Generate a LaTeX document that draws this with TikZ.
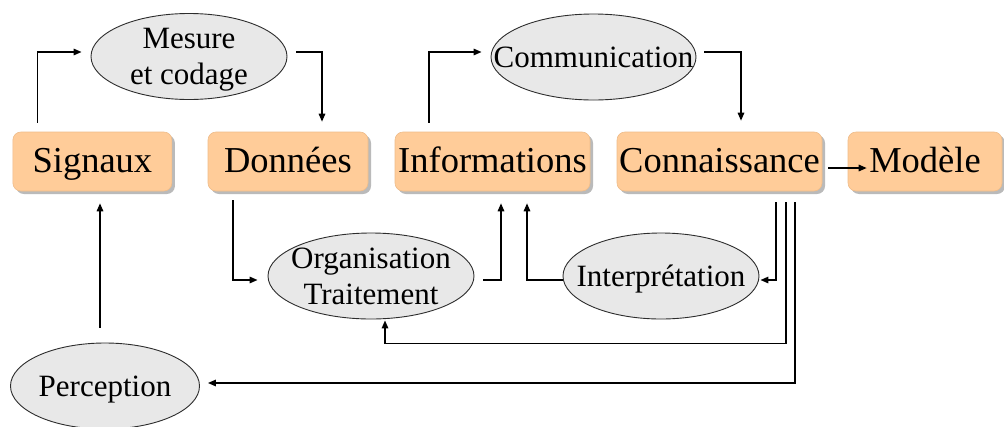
\documentclass[tikz,border=0pt]{standalone}
\usepackage{fontspec}
\setmainfont{Liberation Serif}
\usetikzlibrary{arrows.meta,shadows,shapes.geometric}
\definecolor{boxfill}{RGB}{255,204,153}
\definecolor{boxline}{RGB}{238,188,138}
\definecolor{ellfill}{RGB}{232,232,232}
\definecolor{ellline}{RGB}{45,45,45}
\begin{document}
\begin{tikzpicture}[x=1pt,y=-1pt,
 box/.style={rectangle, rounded corners=8pt, fill=boxfill, draw=boxline, line width=0.6pt,
   minimum height=59pt, inner sep=0pt, font=\fontsize{36.5}{40}\selectfont,
   text height=25pt, text depth=4pt,
   drop shadow={shadow xshift=3pt, shadow yshift=-3pt, fill=black!45, opacity=0.6}},
 ell/.style={ellipse, fill=ellfill, draw=ellline, line width=0.9pt, minimum height=86pt, inner sep=0pt},
 elltext/.style={font=\fontsize{31}{36}\selectfont, inner sep=0pt, align=center},
 one/.style={text height=21pt, text depth=0pt},
 conn/.style={line width=1.5pt, -{Triangle[length=8pt,width=6.5pt]}}
]
\useasboundingbox[fill=white] (0,0) rectangle (1004,426);

\node[box, minimum width=159pt] (sig) at (92.4,161.5) {Signaux};
\node[box, minimum width=160pt] (don) at (288,161.5) {Données};
\node[box, minimum width=195pt] (inf) at (492.5,161.5) {Informations};
\node[box, minimum width=205pt] (con) at (719.5,161.5) {Connaissance};
\node[box, minimum width=154pt] (mod) at (925,161.5) {Modèle};

\node[ell, minimum width=196pt, label={[elltext,yshift=-3.5pt]center:{Mesure\\et codage}}] (mes) at (189,56.5) {};
\node[ell, minimum width=205pt, label={[elltext,one]center:Communication}] (com) at (593.5,57) {};
\node[ell, minimum width=206pt, label={[elltext]center:{Organisation\\Traitement}}] (org) at (371,276) {};
\node[ell, minimum width=196pt, label={[elltext,one]center:Interprétation}] (int) at (661,276) {};
\node[ell, minimum width=189pt, label={[elltext,one]center:Perception}] (per) at (105,386) {};

\draw[conn] ([xshift=-55pt,yshift=9pt]sig.north) |- ([xshift=-9pt,yshift=4.5pt]mes.west);
\draw[conn] ([xshift=9pt,yshift=4.5pt]mes.east) -| ([xshift=34pt,yshift=10pt]don.north);
\draw[conn] ([xshift=-63.5pt,yshift=9pt]inf.north) |- ([xshift=-9pt,yshift=5pt]com.west);
\draw[conn] ([xshift=8pt,yshift=5pt]com.east) -| ([xshift=21.5pt,yshift=11pt]con.north);
\draw[conn] ([xshift=6pt,yshift=-6.5pt]con.east) -- ([xshift=19pt,yshift=-6.5pt]mod.west);
\draw[conn] ([xshift=-55pt,yshift=-9pt]don.south) |- ([xshift=-10pt,yshift=-4pt]org.west);
\draw[conn] ([xshift=9pt,yshift=-4pt]org.east) -| ([xshift=8.5pt,yshift=-12pt]inf.south);
\draw[conn] ([yshift=-4pt]int.west) -| ([xshift=34.5pt,yshift=-12pt]inf.south);
\draw[conn] ([xshift=56.5pt,yshift=-11pt]con.south) |- ([xshift=1pt,yshift=-4pt]int.east);
\draw[conn] ([xshift=66.5pt,yshift=-11pt]con.south) -- ++(0,141) -| ([xshift=14pt,yshift=-1pt]org.south);
\draw[conn] ([xshift=75.5pt,yshift=-11pt]con.south) |- ([xshift=8pt,yshift=3pt]per.east);
\draw[conn] ([xshift=-5pt,yshift=15pt]per.north) -- ([xshift=7.6pt,yshift=-12pt]sig.south);
\end{tikzpicture}
\end{document}
